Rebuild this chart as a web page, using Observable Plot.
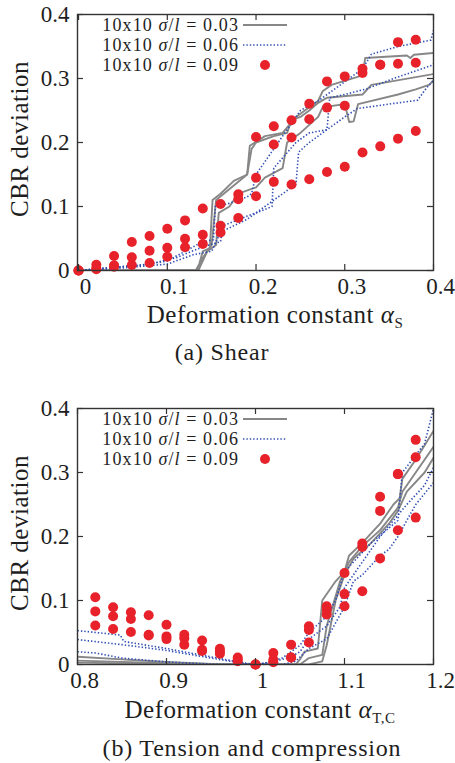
<!DOCTYPE html>
<html><head><meta charset="utf-8">
<script src="https://cdn.jsdelivr.net/npm/d3@7"></script>
<script src="https://cdn.jsdelivr.net/npm/@observablehq/plot@0.6"></script>
<style>
body{margin:0;background:#fff;}
#wrap{position:relative;width:455px;height:763px;font-family:"Liberation Serif","Times New Roman",Times,"DejaVu Serif",serif;color:#1e1e1e;overflow:hidden;}
.abs{position:absolute;white-space:nowrap;line-height:1;}
.panel{position:absolute;left:0;}
.ylab{transform:translate(-50%,-50%) rotate(-90deg);font-size:25px;letter-spacing:0.5px;}
.xlab{transform:translate(-50%,-50%);font-size:25px;letter-spacing:0.5px;}
.cap{transform:translate(-50%,-50%);font-size:24px;letter-spacing:0.8px;}
.leg{font-size:18px;text-align:right;transform:translateY(-50%);line-height:15px;letter-spacing:1.1px;}
sub{font-size:15px;vertical-align:-5px;line-height:0;}
</style></head>
<body><div id="wrap"></div>
<script>
// ---------- Panel (a) Shear ----------
const aXTicks = [0, 0.1, 0.2, 0.3, 0.4];
const aXLabels = ["0", "0.1", "0.2", "0.3", "0.4"];
const yTicks = [0, 0.1, 0.2, 0.3, 0.4];
const yLabels = ["0", "0.1", "0.2", "0.3", "0.4"];

const aDotX = [0,0.02,0.04,0.06,0.08,0.10,0.12,0.14,0.16,0.18,0.20,0.22,0.24,0.26,0.28,0.30,0.32,0.34,0.36,0.38];
const aDotHigh = [0,0.009,0.0226,0.0444,0.0538,0.0652,0.0783,0.097,0.104,0.119,0.2087,0.2253,0.2347,0.2607,0.2955,0.3033,0.3153,0.3215,0.3568,0.3605];
const aDotMid  = [0,0.003,0.008,0.0206,0.0309,0.0356,0.0496,0.0558,0.07,0.1115,0.145,0.197,0.2077,0.2363,0.2545,0.2576,0.3085,0.3215,0.323,0.3247];
const aDotLow  = [0,0.002,0.006,0.0086,0.0117,0.0215,0.0362,0.0413,0.0595,0.082,0.116,0.1385,0.1344,0.1427,0.154,0.162,0.1843,0.194,0.206,0.218];

const aGray1 = [[0,0],[0.132,0],[0.136,0.01],[0.14,0.03],[0.148,0.035],[0.151,0.11],[0.16,0.12],[0.175,0.14],[0.19,0.15],[0.193,0.195],[0.21,0.21],[0.23,0.215],[0.245,0.24],[0.26,0.255],[0.27,0.265],[0.275,0.28],[0.285,0.29],[0.32,0.305],[0.323,0.332],[0.37,0.336],[0.374,0.332],[0.378,0.337],[0.4,0.34]];
const aGray2 = [[0,0],[0.133,0],[0.14,0.02],[0.15,0.04],[0.155,0.11],[0.19,0.15],[0.195,0.19],[0.2,0.2],[0.22,0.21],[0.235,0.215],[0.24,0.235],[0.25,0.24],[0.26,0.25],[0.27,0.262],[0.28,0.27],[0.32,0.275],[0.33,0.29],[0.4,0.307]];
const aGray3 = [[0,0],[0.135,0],[0.145,0.03],[0.155,0.04],[0.158,0.09],[0.17,0.1],[0.18,0.12],[0.2,0.13],[0.21,0.145],[0.23,0.16],[0.235,0.2],[0.25,0.215],[0.27,0.24],[0.275,0.255],[0.3,0.26],[0.305,0.232],[0.31,0.233],[0.315,0.26],[0.36,0.275],[0.38,0.283],[0.395,0.29],[0.4,0.297]];
const aBlue1 = [[0,0],[0.03,0.004],[0.07,0.008],[0.1,0.015],[0.12,0.03],[0.14,0.045],[0.152,0.048],[0.154,0.1],[0.17,0.105],[0.19,0.115],[0.195,0.12],[0.2,0.15],[0.22,0.19],[0.235,0.22],[0.25,0.25],[0.27,0.265],[0.285,0.28],[0.3,0.295],[0.32,0.315],[0.33,0.338],[0.36,0.35],[0.397,0.36],[0.4,0.375]];
const aBlue2 = [[0,0],[0.04,0.005],[0.08,0.01],[0.11,0.02],[0.14,0.037],[0.16,0.045],[0.163,0.07],[0.19,0.085],[0.2,0.09],[0.218,0.1],[0.22,0.16],[0.245,0.2],[0.26,0.215],[0.28,0.22],[0.283,0.27],[0.3,0.275],[0.325,0.284],[0.355,0.3],[0.397,0.32],[0.4,0.323]];
const aBlue3 = [[0,0],[0.05,0.004],[0.1,0.01],[0.13,0.025],[0.15,0.03],[0.16,0.06],[0.19,0.08],[0.21,0.1],[0.235,0.125],[0.245,0.135],[0.248,0.185],[0.26,0.2],[0.28,0.22],[0.3,0.24],[0.314,0.253],[0.35,0.26],[0.382,0.266],[0.392,0.285],[0.4,0.297]];

// ---------- Panel (b) Tension and compression ----------
const bXTicks = [0.8, 0.9, 1.0, 1.1, 1.2];
const bXLabels = ["0.8", "0.9", "1", "1.1", "1.2"];
const bDotX = [0.82,0.84,0.86,0.88,0.90,0.92,0.94,0.96,0.98,1.0,1.02,1.04,1.06,1.08,1.10,1.12,1.14,1.16,1.18];
const bDotHigh = [0.105,0.0894,0.0816,0.0769,0.0622,0.0465,0.0376,0.0246,0.011,0,0.0178,0.031,0.0596,0.091,0.143,0.189,0.262,0.2975,0.351];
const bDotMid  = [0.083,0.0753,0.0711,0.0465,0.0439,0.041,0.023,0.0204,0.0073,0,0.0073,0.011,0.054,0.0858,0.110,0.1835,0.24,0.2975,0.3237];
const bDotLow  = [0.061,0.0554,0.0507,0.0455,0.0397,0.0308,0.021,0.0167,0.005,0,0.0037,0.011,0.0345,0.078,0.091,0.1145,0.1658,0.2097,0.2295];

const bGray1 = [[0.8,0.012],[0.85,0.008],[0.9,0.004],[0.95,0.001],[0.99,0],[1.045,0],[1.05,0.008],[1.055,0.02],[1.07,0.025],[1.075,0.1],[1.09,0.13],[1.1,0.145],[1.105,0.17],[1.12,0.19],[1.14,0.22],[1.155,0.25],[1.162,0.26],[1.165,0.29],[1.18,0.32],[1.2,0.365]];
const bGray2 = [[0.8,0.006],[0.9,0.002],[0.98,0],[1.05,0],[1.06,0.01],[1.075,0.015],[1.08,0.06],[1.095,0.13],[1.105,0.16],[1.12,0.185],[1.14,0.21],[1.16,0.245],[1.165,0.27],[1.18,0.3],[1.2,0.34]];
const bGray3 = [[0.8,0.003],[0.95,0],[1.06,0],[1.075,0.005],[1.08,0.03],[1.09,0.1],[1.1,0.14],[1.11,0.165],[1.13,0.19],[1.15,0.22],[1.16,0.24],[1.17,0.27],[1.19,0.3],[1.2,0.323]];
const bBlue1 = [[0.8,0.053],[0.848,0.046],[0.852,0.036],[0.9,0.025],[0.95,0.012],[0.98,0.004],[1.0,0],[1.01,0.002],[1.03,0.01],[1.05,0.03],[1.06,0.05],[1.08,0.075],[1.09,0.1],[1.1,0.145],[1.13,0.19],[1.16,0.225],[1.165,0.3],[1.19,0.345],[1.2,0.4]];
const bBlue2 = [[0.8,0.039],[0.85,0.031],[0.9,0.022],[0.95,0.01],[0.99,0.001],[1.0,0],[1.02,0.004],[1.04,0.012],[1.05,0.02],[1.06,0.04],[1.08,0.06],[1.095,0.09],[1.1,0.12],[1.12,0.16],[1.14,0.2],[1.17,0.25],[1.19,0.28],[1.2,0.308]];
const bBlue3 = [[0.8,0.02],[0.82,0.018],[0.85,0.01],[0.9,0.004],[0.96,0],[1.03,0],[1.045,0.005],[1.06,0.025],[1.08,0.04],[1.1,0.09],[1.11,0.13],[1.12,0.14],[1.14,0.17],[1.15,0.18],[1.16,0.2],[1.18,0.25],[1.2,0.284]];

const legendLabels = ["0.03", "0.06", "0.09"];
const GRAY = "#878787", BLUE = "#2f4db3", RED = "#e8222a", INK = "#333";
const FONT = "'Liberation Serif','Times New Roman',Times,'DejaVu Serif',serif";
const DASH = "1.4,2";
const R = 5;

function series(list){
  return list.flatMap(([name, pts]) => pts.map(([x, y]) => ({s: name, x, y})));
}
function dots(xs, ...sets){
  return sets.flatMap(ys => ys.map((y, i) => ({x: xs[i], y})));
}

function panel({xDomain, xTicks, xLabels, grays, blues, dotData}){
  const W = 455, H = 300, mL = 77, mR = 22, mT = 14, mB = 30;
  const fw = W - mL - mR, fh = H - mT - mB;
  const xl = new Map(xTicks.map((t, i) => [t, xLabels[i]]));
  const yl = new Map(yTicks.map((t, i) => [t, yLabels[i]]));
  return Plot.plot({
    width: W, height: H,
    marginLeft: mL, marginRight: mR, marginTop: mT, marginBottom: mB,
    style: {fontFamily: FONT, fontSize: "22px", color: "#1e1e1e", background: "transparent", overflow: "visible"},
    x: {domain: xDomain, axis: null},
    y: {domain: [0, 0.4], axis: null},
    marks: [
      Plot.line(series(grays), {x: "x", y: "y", z: "s", stroke: GRAY, strokeWidth: 1.9, clip: true}),
      Plot.line(series(blues), {x: "x", y: "y", z: "s", stroke: BLUE, strokeWidth: 1.6, strokeDasharray: DASH, strokeLinecap: "butt", clip: true}),
      Plot.dot(dotData, {x: "x", y: "y", r: R, fill: RED, stroke: "none"}),
      Plot.tickX(xTicks, {x: d => d, insetTop: fh - 6, stroke: INK, strokeWidth: 1.2}),
      Plot.tickX(xTicks, {x: d => d, insetBottom: fh - 6, stroke: INK, strokeWidth: 1.2}),
      Plot.tickY(yTicks, {y: d => d, insetRight: fw - 6, stroke: INK, strokeWidth: 1.2}),
      Plot.tickY(yTicks, {y: d => d, insetLeft: fw - 6, stroke: INK, strokeWidth: 1.2}),
      Plot.frame({stroke: INK, strokeWidth: 1.4}),
      Plot.axisX({ticks: xTicks, tickSize: 0, tickPadding: 7, dx: 7, tickFormat: d => xl.get(d), label: null, fill: "#1e1e1e", fontFamily: FONT, fontSize: 23}),
      Plot.axisY({ticks: yTicks, tickSize: 0, tickPadding: 8, tickFormat: d => yl.get(d), label: null, fill: "#1e1e1e", fontFamily: FONT, fontSize: 23})
    ]
  });
}

const wrap = document.getElementById("wrap");
function addDiv(cls, html, css){
  const d = document.createElement("div");
  d.className = "abs " + cls;
  d.innerHTML = html;
  Object.assign(d.style, css);
  wrap.appendChild(d);
  return d;
}
function legend(top){
  const rows = [top + 24.5, top + 44.5, top + 64.5];
  const styles = ["line", "dash", "dot"];
  rows.forEach((y, i) => {
    addDiv("leg", `10x10 <i>σ</i>/<i>l</i> = ${legendLabels[i]}`, {right: (455 - 239) + "px", top: y + "px"});
    const s = document.createElementNS("http://www.w3.org/2000/svg", "svg");
    s.setAttribute("width", 50); s.setAttribute("height", 14);
    Object.assign(s.style, {position: "absolute", left: "241px", top: (y - 7) + "px"});
    if (styles[i] === "dot") {
      s.innerHTML = `<circle cx="24" cy="7" r="${R}" fill="${RED}"/>`;
    } else if (styles[i] === "dash") {
      s.innerHTML = `<line x1="2" x2="46" y1="7" y2="7" stroke="${BLUE}" stroke-width="1.6" stroke-dasharray="${DASH}"/>`;
    } else {
      s.innerHTML = `<line x1="2" x2="46" y1="7" y2="7" stroke="${GRAY}" stroke-width="1.9"/>`;
    }
    wrap.appendChild(s);
  });
}

// Panel (a)
const pa = panel({
  xDomain: [-0.0012, 0.4], xTicks: aXTicks, xLabels: aXLabels,
  grays: [["g1", aGray1], ["g2", aGray2], ["g3", aGray3]],
  blues: [["b1", aBlue1], ["b2", aBlue2], ["b3", aBlue3]],
  dotData: dots(aDotX, aDotHigh, aDotMid, aDotLow)
});
pa.classList.add("panel"); pa.style.top = "0px";
wrap.appendChild(pa);
legend(0);
addDiv("ylab", "CBR deviation", {left: "19px", top: "139px"});
addDiv("xlab", "Deformation constant <i>α</i><sub>S</sub>", {left: "275px", top: "314px"});
addDiv("cap", "(a) Shear", {left: "222px", top: "352px"});

// Panel (b)
const pb = panel({
  xDomain: [0.8, 1.2], xTicks: bXTicks, xLabels: bXLabels,
  grays: [["g1", bGray1], ["g2", bGray2], ["g3", bGray3]],
  blues: [["b1", bBlue1], ["b2", bBlue2], ["b3", bBlue3]],
  dotData: dots(bDotX, bDotHigh, bDotMid, bDotLow)
});
pb.classList.add("panel"); pb.style.top = "394px";
wrap.appendChild(pb);
legend(394);
addDiv("ylab", "CBR deviation", {left: "19px", top: "533px"});
addDiv("xlab", "Deformation constant <i>α</i><sub>T,C</sub>", {left: "260px", top: "709px"});
addDiv("cap", "(b) Tension and compression", {left: "252px", top: "748px"});
</script>
</body></html>
